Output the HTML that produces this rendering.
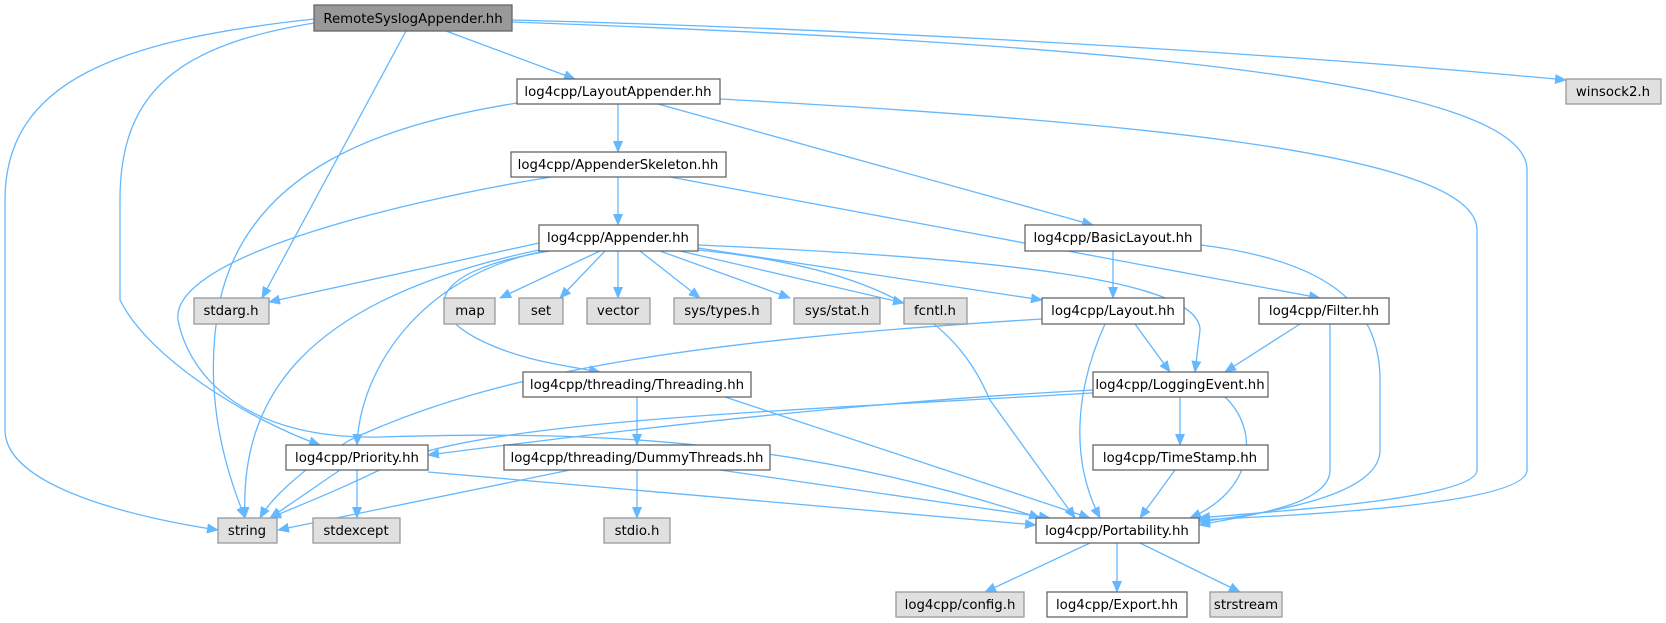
<!DOCTYPE html>
<html><head><meta charset="utf-8"><style>
html,body{margin:0;padding:0;background:#fff;}
svg{display:block;}
text{font-family:"DejaVu Sans","Liberation Sans",sans-serif;font-size:13.3px;fill:#000;}
.e{fill:none;stroke:#63b8ff;stroke-width:1.3;marker-end:url(#a);}
.n{fill:#fff;stroke:#666;stroke-width:1.3;}
.g{fill:#e0e0e0;stroke:#999;stroke-width:1.3;}
</style></head><body>
<svg width="1666" height="623" viewBox="0 0 1666 623" xmlns="http://www.w3.org/2000/svg">
<defs><marker id="a" markerWidth="12" markerHeight="10" refX="11" refY="5" orient="auto" markerUnits="userSpaceOnUse"><path d="M0,0 L12,5 L0,10 z" fill="#63b8ff"/></marker></defs>
<!-- edges -->
<path class="e" d="M314,19 C120,40 5,80 5,200 L5,430 C5,490 150,520 218,530"/>
<path class="e" d="M314,23 C180,45 120,90 120,200 L120,300 C150,360 250,420 320,445"/>
<path class="e" d="M406,31 L262,298"/>
<path class="e" d="M446,31 L575,79"/>
<path class="e" d="M512,20 C900,30 1300,55 1566,80"/>
<path class="e" d="M512,22 C1000,40 1527,70 1527,170 L1527,470 C1527,505 1300,515 1199,520"/>
<path class="e" d="M618,104 L618,152"/>
<path class="e" d="M658,104 L1093,225"/>
<path class="e" d="M517,103 C380,125 250,170 220,300 C200,400 230,480 245,518"/>
<path class="e" d="M720,99 C1100,120 1477,150 1477,230 L1477,470 C1477,500 1260,512 1199,518"/>
<path class="e" d="M618,177 L618,225"/>
<path class="e" d="M670,177 L1320,298"/>
<path class="e" d="M551,177 C380,205 170,260 178,320 C190,380 250,440 380,437 C600,430 800,440 1040,518"/>
<path class="e" d="M539,243 L269,302"/>
<path class="e" d="M600,251 L500,298"/>
<path class="e" d="M605,251 L560,298"/>
<path class="e" d="M618,251 L618,298"/>
<path class="e" d="M640,251 L700,298"/>
<path class="e" d="M660,251 L790,298"/>
<path class="e" d="M680,251 L904,303"/>
<path class="e" d="M698,248 L1042,300"/>
<path class="e" d="M698,245 C1000,258 1200,280 1200,330 L1195,372"/>
<path class="e" d="M698,250 C900,270 960,330 990,400 L1075,518"/>
<path class="e" d="M545,251 C420,275 360,370 357,445"/>
<path class="e" d="M539,250 C300,300 240,400 245,518"/>
<path class="e" d="M550,251 C430,270 420,310 480,340 C520,360 560,365 600,372"/>
<path class="e" d="M1113,251 L1113,298"/>
<path class="e" d="M1201,245 C1320,260 1380,300 1380,380 L1380,450 C1380,500 1250,515 1199,522"/>
<path class="e" d="M1300,324 L1225,372"/>
<path class="e" d="M1330,324 L1330,470 C1330,505 1250,515 1199,525"/>
<path class="e" d="M1042,319 C700,340 500,370 350,440 C300,470 270,500 260,518"/>
<path class="e" d="M1135,324 L1170,372"/>
<path class="e" d="M1105,324 C1075,390 1070,460 1100,518"/>
<path class="e" d="M1093,390 C900,400 700,420 428,455"/>
<path class="e" d="M1093,393 C800,410 500,420 400,460 C340,490 300,505 270,518"/>
<path class="e" d="M1180,397 L1180,445"/>
<path class="e" d="M1225,397 C1260,430 1255,490 1190,518"/>
<path class="e" d="M637,397 L637,445"/>
<path class="e" d="M725,397 L1090,518"/>
<path class="e" d="M570,470 L278,530"/>
<path class="e" d="M637,470 L637,518"/>
<path class="e" d="M720,470 L1050,518"/>
<path class="e" d="M340,470 L270,518"/>
<path class="e" d="M357,470 L357,518"/>
<path class="e" d="M428,472 L1036,525"/>
<path class="e" d="M1175,470 L1140,518"/>
<path class="e" d="M1090,543 L985,592"/>
<path class="e" d="M1117,543 L1117,592"/>
<path class="e" d="M1140,543 L1240,592"/>
<!-- nodes -->
<rect x="314" y="5" width="198" height="26" fill="#999" stroke="#666" stroke-width="1.3"/><text x="413" y="23" text-anchor="middle">RemoteSyslogAppender.hh</text>
<rect class="n" x="517" y="79" width="203" height="25"/><text x="618" y="96" text-anchor="middle">log4cpp/LayoutAppender.hh</text>
<rect class="g" x="1566" y="79" width="95" height="25"/><text x="1613" y="96" text-anchor="middle">winsock2.h</text>
<rect class="n" x="511" y="152" width="215" height="25"/><text x="618" y="169" text-anchor="middle">log4cpp/AppenderSkeleton.hh</text>
<rect class="n" x="539" y="225" width="159" height="26"/><text x="618" y="242" text-anchor="middle">log4cpp/Appender.hh</text>
<rect class="n" x="1025" y="225" width="176" height="26"/><text x="1113" y="242" text-anchor="middle">log4cpp/BasicLayout.hh</text>
<rect class="g" x="194" y="298" width="75" height="26"/><text x="231" y="315" text-anchor="middle">stdarg.h</text>
<rect class="g" x="444" y="298" width="51" height="26"/><text x="470" y="315" text-anchor="middle">map</text>
<rect class="g" x="519" y="298" width="44" height="26"/><text x="541" y="315" text-anchor="middle">set</text>
<rect class="g" x="587" y="298" width="63" height="26"/><text x="618" y="315" text-anchor="middle">vector</text>
<rect class="g" x="674" y="298" width="97" height="26"/><text x="722" y="315" text-anchor="middle">sys/types.h</text>
<rect class="g" x="794" y="298" width="86" height="26"/><text x="837" y="315" text-anchor="middle">sys/stat.h</text>
<rect class="g" x="904" y="298" width="63" height="26"/><text x="935" y="315" text-anchor="middle">fcntl.h</text>
<rect class="n" x="1042" y="298" width="142" height="26"/><text x="1113" y="315" text-anchor="middle">log4cpp/Layout.hh</text>
<rect class="n" x="1259" y="298" width="130" height="26"/><text x="1324" y="315" text-anchor="middle">log4cpp/Filter.hh</text>
<rect class="n" x="523" y="372" width="228" height="25"/><text x="637" y="389" text-anchor="middle">log4cpp/threading/Threading.hh</text>
<rect class="n" x="1093" y="372" width="175" height="25"/><text x="1180" y="389" text-anchor="middle">log4cpp/LoggingEvent.hh</text>
<rect class="n" x="286" y="445" width="142" height="25"/><text x="357" y="462" text-anchor="middle">log4cpp/Priority.hh</text>
<rect class="n" x="504" y="445" width="266" height="25"/><text x="637" y="462" text-anchor="middle">log4cpp/threading/DummyThreads.hh</text>
<rect class="n" x="1093" y="445" width="175" height="25"/><text x="1180" y="462" text-anchor="middle">log4cpp/TimeStamp.hh</text>
<rect class="g" x="218" y="518" width="59" height="25"/><text x="247" y="535" text-anchor="middle">string</text>
<rect class="g" x="313" y="518" width="87" height="25"/><text x="356" y="535" text-anchor="middle">stdexcept</text>
<rect class="g" x="604" y="518" width="66" height="25"/><text x="637" y="535" text-anchor="middle">stdio.h</text>
<rect class="n" x="1036" y="518" width="163" height="25"/><text x="1117" y="535" text-anchor="middle">log4cpp/Portability.hh</text>
<rect class="g" x="896" y="592" width="128" height="25"/><text x="960" y="609" text-anchor="middle">log4cpp/config.h</text>
<rect class="n" x="1047" y="592" width="140" height="25"/><text x="1117" y="609" text-anchor="middle">log4cpp/Export.hh</text>
<rect class="g" x="1210" y="592" width="72" height="25"/><text x="1246" y="609" text-anchor="middle">strstream</text>
</svg>
</body></html>
